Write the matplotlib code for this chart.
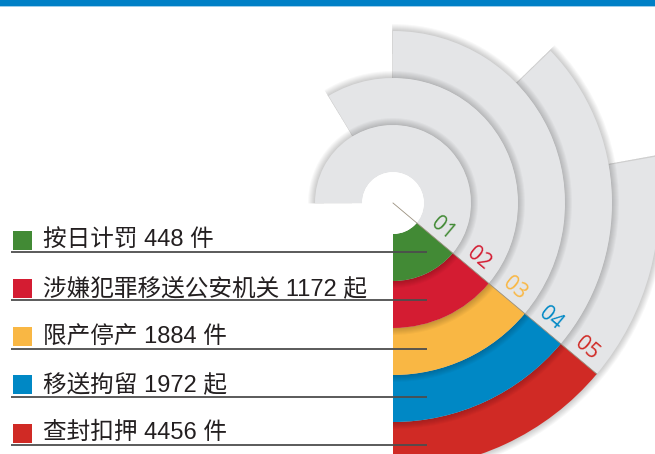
import matplotlib
matplotlib.use('Agg')
import matplotlib.pyplot as plt
from matplotlib.patches import Wedge, Rectangle, Circle
import numpy as np

# ---- data ----
labels = ['按日计罚', '涉嫌犯罪移送公安机关', '限产停产', '移送拘留', '查封扣押']
values = [448, 1172, 1884, 1972, 4456]
units = ['件', '起', '件', '起', '件']
codes = ['01', '02', '03', '04', '05']
colors = ['#428A35', '#D41C32', '#F9B744', '#0088C5', '#D02A25']
grey_start_deg = [180, 121, 90, 44, 10]

W, H = 655, 454
fig = plt.figure(figsize=(W / 100, H / 100), dpi=100)
ax = fig.add_axes([0, 0, 1, 1])
ax.set_xlim(0, W)
ax.set_ylim(0, H)
ax.axis('off')

def Y(y):
    return H - y

C = (393, Y(203))
r0 = 31
rw = 47
split = -40
grey = '#E4E5E7'

# rings from outer to inner, with soft shadows
for i in range(4, -1, -1):
    rin = r0 + rw * i
    rout = rin + rw
    for k in range(1, 8):
        ax.add_patch(Wedge(C, rout + k, -90, grey_start_deg[i] + 0.3, width=rw + k,
                           facecolor='black', alpha=0.026, lw=0, zorder=1 + (4 - i) * 2))
    ax.add_patch(Wedge(C, rout, split, grey_start_deg[i], width=rw,
                       facecolor=grey, lw=0, zorder=2 + (4 - i) * 2))
    ax.add_patch(Wedge(C, rout, -90, split, width=rw,
                       facecolor=colors[i], lw=0, zorder=2 + (4 - i) * 2))

# hole
ax.add_patch(Circle(C, r0, facecolor='white', lw=0, zorder=20))
# diagonal line
a = np.deg2rad(split)
rmax = r0 + rw * 5
ax.plot([C[0], C[0] + rmax * np.cos(a)], [C[1], C[1] + rmax * np.sin(a)],
        color='#9A907E', lw=0.6, zorder=21)

# ring codes
u = np.array([np.cos(a), np.sin(a)])
n = np.array([-np.sin(a), np.cos(a)])
for i in range(5):
    rm = r0 + rw * i + rw / 2
    p = np.array(C) + rm * u + 13 * n
    ax.text(p[0], p[1], codes[i], color=colors[i], fontsize=15, rotation=split,
            ha='center', va='center', family=['Open Sans', 'DejaVu Sans'], zorder=22,
            rotation_mode='anchor')

# legend
for i in range(5):
    yc = 240 + i * 48.3
    yl = 252 + i * 48.3
    ax.add_patch(Rectangle((13, Y(yc) - 9.5), 19, 19, facecolor=colors[i], lw=0, zorder=22))
    ax.text(43, Y(yc), f'{labels[i]} {values[i]} {units[i]}', fontsize=17, color='#231F20',
            ha='left', va='center',
            family=['Liberation Sans', 'Noto Sans CJK SC', 'DejaVu Sans'], zorder=22)
    ax.plot([11, 427], [Y(yl), Y(yl)], color='#4D4D4D', lw=1.3, zorder=23,
            solid_capstyle='butt')

# top bar
ax.add_patch(Rectangle((0, Y(6)), W, 6, facecolor='#0080C6', lw=0, zorder=30))
ax.add_patch(Rectangle((0, Y(7)), W, 1, facecolor='#9CCDEB', lw=0, zorder=30))

fig.savefig('out.png', dpi=100)
